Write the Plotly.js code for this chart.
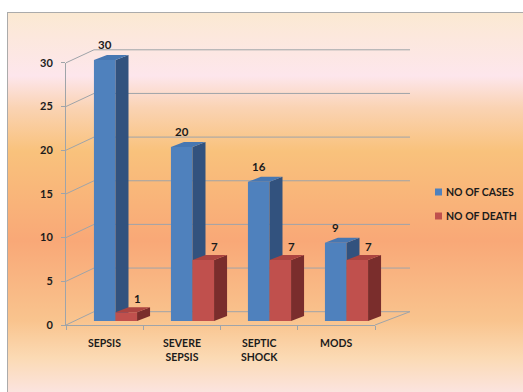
<!DOCTYPE html>
<html><head><meta charset="utf-8">
<script src="https://cdn.plot.ly/plotly-3.0.1.min.js"></script>
<style>
html,body{margin:0;padding:0;background:#fff;width:523px;height:392px;overflow:hidden}
#frame{position:absolute;left:7px;top:12px;width:520px;height:384px;border-left:1px solid #ababab;border-top:1px solid #ababab;
background:linear-gradient(to bottom,#FBE9D2 0px,#FCE8DC 22px,#FDE6EC 63px,#FAD3B3 95px,#F9C27C 138px,#F9A877 228px,#F9C48E 308px,#FBDAB4 345px,#FBE4E0 380px)}
#chart{position:absolute;left:0;top:0;width:523px;height:392px}
</style></head>
<body><div id="frame"></div><div id="chart"></div>
<script>
// ---- data ----
const categories = ['SEPSIS', 'SEVERE SEPSIS', 'SEPTIC SHOCK', 'MODS'];
const categoryLabels = ['SEPSIS', 'SEVERE<br>SEPSIS', 'SEPTIC<br>SHOCK', 'MODS'];
const seriesNames = ['NO OF CASES', 'NO OF DEATH'];
const noOfCases = [30, 20, 16, 9];
const noOfDeath = [1, 7, 7, 7];
const yTickValues = [0, 5, 10, 15, 20, 25, 30];

// ---- layout geometry (pixels) ----
const W = 523, H = 392;
const px = x => x / W, py = y => 1 - y / H;
const FONT = 'Lato, "Open Sans", sans-serif';
const TXT = '#1b1b1b';
const GRID = '#9fa4a9';

// bar plane
const UX = 77, X0 = 77, Y0 = 321, UY = 8.7;
const xr = [-0.5, 3.7], yr = [0, 32];
const xDom = [px(X0), px(X0 + (xr[1] - xr[0]) * UX)];
const yDom = [py(Y0), py(Y0 - yr[1] * UY)];
const BW = 0.28, DX = 13 / UX, DY = 5 / UY;

// front axis
const FX0 = 66, FX1 = 375, FY0 = 325, FUY = 8.74;
// back wall
const BX0 = 94, BX1 = 410, BY0 = 311.7, BUY = 8.73;

const styles = [
  {front: '#4F81BD', side: '#32527E', top: '#4777B2', off: -BW, xa: 'x', ya: 'y'},
  {front: '#C0504D', side: '#7A2D2C', top: '#AC4440', off: 0, xa: 'x3', ya: 'y3'}
];
const seriesValues = [noOfCases, noOfDeath];
const idx = categories.map((_, i) => i);

const traces = [];
seriesValues.forEach((vals, s) => {
  const st = styles[s];
  traces.push({
    type: 'bar', x: idx, y: vals, width: BW, offset: st.off, name: seriesNames[s],
    marker: {color: st.front, line: {width: 0}}, xaxis: st.xa, yaxis: st.ya,
    hoverinfo: 'skip', showlegend: false
  });
  const sx = [], sy = [], tx = [], ty = [];
  vals.forEach((v, i) => {
    const l = i + st.off, r = l + BW;
    sx.push(r, r, r + DX, r + DX, r, null);
    sy.push(0, v, v + DY, DY, 0, null);
    tx.push(l, r, r + DX, l + DX, l, null);
    ty.push(v, v, v + DY, v + DY, v, null);
  });
  traces.push({type: 'scatter', mode: 'lines', x: sx, y: sy, fill: 'toself', fillcolor: st.side,
    line: {width: 0, color: st.side}, xaxis: st.xa, yaxis: st.ya, hoverinfo: 'skip', showlegend: false});
  traces.push({type: 'scatter', mode: 'lines', x: tx, y: ty, fill: 'toself', fillcolor: st.top,
    line: {width: 0, color: st.top}, xaxis: st.xa, yaxis: st.ya, hoverinfo: 'skip', showlegend: false});
});

// decoration shapes
const shapes = [];
yTickValues.forEach(v => {
  const yf = FY0 - v * FUY, yb = BY0 - v * BUY;
  shapes.push({type: 'line', xref: 'paper', yref: 'paper', layer: 'below',
    x0: px(BX0), x1: px(BX1), y0: py(yb), y1: py(yb), line: {color: GRID, width: 1}});
  shapes.push({type: 'line', xref: 'paper', yref: 'paper', layer: 'below',
    x0: px(FX0), x1: px(BX0), y0: py(yf), y1: py(yb), line: {color: GRID, width: 1}});
});
shapes.push({type: 'line', xref: 'paper', yref: 'paper', layer: 'below',
  x0: px(FX1), x1: px(BX1), y0: py(FY0), y1: py(BY0), line: {color: GRID, width: 1}});

// legend (manual)
const legendColors = [styles[0].front, styles[1].front];
const annotations = [];
seriesNames.forEach((n, s) => {
  const yc = 192 + s * 24;
  shapes.push({type: 'rect', xref: 'paper', yref: 'paper', x0: px(435), x1: px(442), y0: py(yc - 3.5), y1: py(yc + 3.5),
    fillcolor: legendColors[s], line: {width: 0}});
  annotations.push({xref: 'paper', yref: 'paper', x: px(444), y: py(yc), xanchor: 'left', yanchor: 'middle',
    text: n, showarrow: false, font: {family: FONT, size: 10.5, color: TXT, weight: 700}});
});

// value labels
noOfCases.forEach((v, i) => annotations.push({xref: 'x', yref: 'y', x: i - BW / 2, y: v, yanchor: 'bottom', yshift: 7,
  text: String(v), showarrow: false, font: {family: FONT, size: 11.5, color: TXT, weight: 700}}));
noOfDeath.forEach((v, i) => annotations.push({xref: 'x', yref: 'y', x: i + 0.29, y: v, yanchor: 'bottom', yshift: 5,
  text: String(v), showarrow: false, font: {family: FONT, size: 11.5, color: TXT, weight: 700}}));

// category labels
categoryLabels.forEach((t, i) => annotations.push({xref: 'x2', yref: 'paper', x: i, y: py(335), yanchor: 'top',
  text: t, showarrow: false, font: {family: FONT, size: 10.5, color: TXT, weight: 700}}));

const hidden = {showgrid: false, zeroline: false, showline: false, showticklabels: false, ticks: ''};
const layout = {
  width: W, height: H, margin: {l: 0, r: 0, t: 0, b: 0},
  paper_bgcolor: 'rgba(0,0,0,0)', plot_bgcolor: 'rgba(0,0,0,0)',
  showlegend: false, barmode: 'overlay',
  xaxis: Object.assign({domain: xDom, range: xr, anchor: 'y'}, hidden),
  yaxis: Object.assign({domain: yDom, range: yr, anchor: 'x'}, hidden),
  xaxis3: Object.assign({overlaying: 'x', range: xr, anchor: 'y3'}, hidden),
  yaxis3: Object.assign({overlaying: 'y', range: yr, anchor: 'x3'}, hidden),
  xaxis2: {domain: [px(FX0), px(FX1)], range: [-0.5, 3.5], anchor: 'y2', showgrid: false, zeroline: false,
    showline: true, linecolor: GRID, linewidth: 1, tickmode: 'array', tickvals: [-0.5, 0.5, 1.5, 2.5, 3.5],
    ticktext: ['', '', '', '', ''], ticks: 'outside', ticklen: 4, tickcolor: GRID},
  yaxis2: {domain: [py(FY0), py(FY0 - 30 * FUY)], range: [0, 30], anchor: 'x2', showgrid: false, zeroline: false,
    showline: true, linecolor: GRID, linewidth: 1, tickmode: 'array', tickvals: yTickValues, ticks: 'outside',
    ticklen: 4, tickcolor: GRID, ticklabelstandoff: 6,
    tickfont: {family: FONT, size: 11, color: TXT, weight: 700}},
  shapes: shapes, annotations: annotations
};
traces.push({type: 'scatter', x: [], y: [], xaxis: 'x2', yaxis: 'y2', showlegend: false, hoverinfo: 'skip'});
Plotly.newPlot('chart', traces, layout, {staticPlot: true, displayModeBar: false});
</script>
</body></html>
